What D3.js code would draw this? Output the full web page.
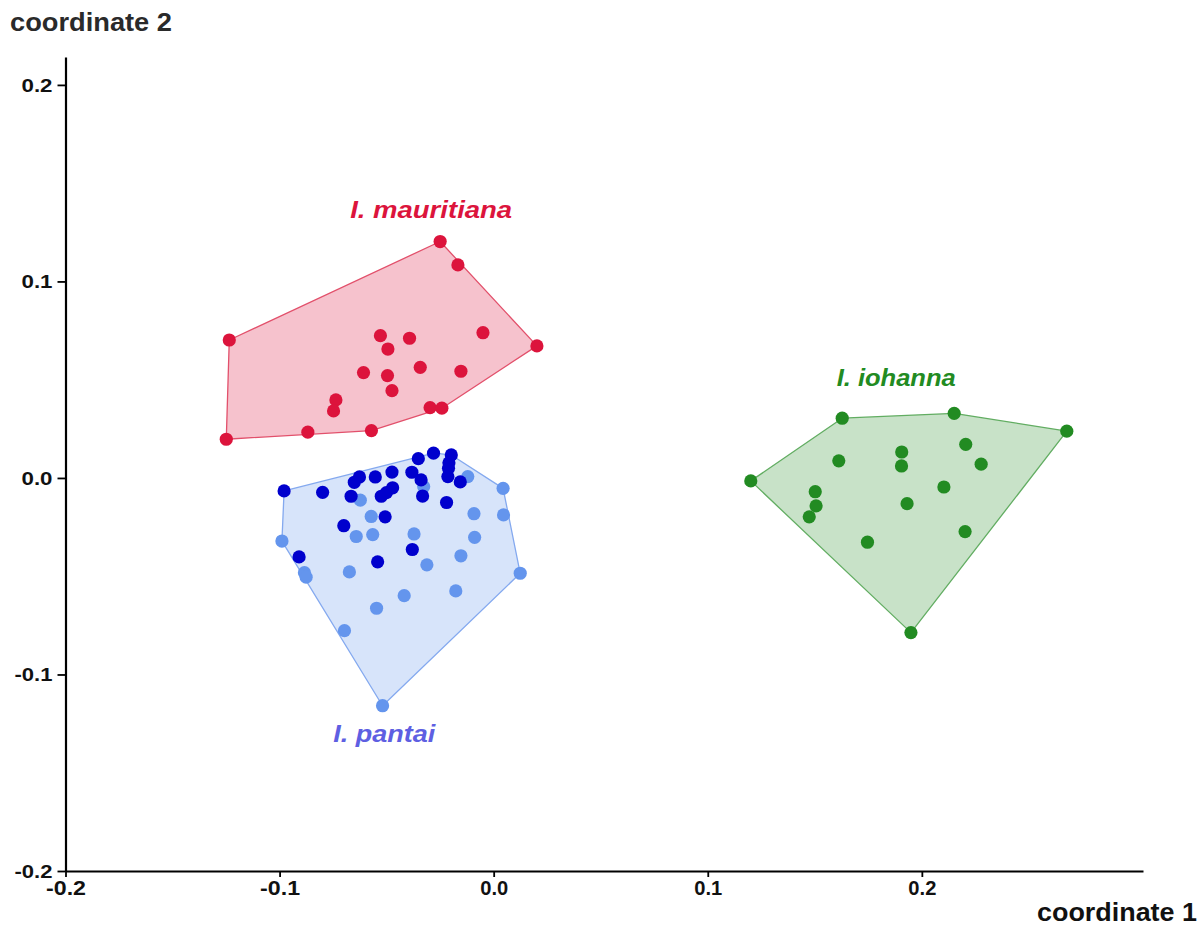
<!DOCTYPE html>
<html><head><meta charset="utf-8">
<script src="https://cdn.jsdelivr.net/npm/d3@7"></script>
<style>body{margin:0;background:#fff}svg{display:block}</style>
</head><body>
<svg id="chart" width="1203" height="926"></svg>
<script>
// ---- data (coordinate 1, coordinate 2) ----
const xTicks = [-0.2, -0.1, 0.0, 0.1, 0.2];
const yTicks = [-0.2, -0.1, 0.0, 0.1, 0.2];
const xTitle = "coordinate 1";
const yTitle = "coordinate 2";

const mauritiana = [
  [-0.0250, 0.1203], [-0.0167, 0.1084], [-0.1235, 0.0702], [-0.0050, 0.0739],
  [0.0202, 0.0672], [-0.0529, 0.0724], [-0.0393, 0.0711], [-0.0494, 0.0656],
  [-0.0608, 0.0536], [-0.0496, 0.0521], [-0.0343, 0.0563], [-0.0153, 0.0543],
  [-0.0475, 0.0444], [-0.0737, 0.0397], [-0.0748, 0.0341], [-0.0297, 0.0358],
  [-0.0242, 0.0355], [-0.0868, 0.0233], [-0.0571, 0.0241], [-0.1249, 0.0197]
];
const iohanna = [
  [0.1201, -0.0015], [0.1628, 0.0304], [0.2151, 0.0329], [0.2677, 0.0238],
  [0.2205, 0.0171], [0.2277, 0.0070], [0.1906, 0.0132], [0.1905, 0.0061],
  [0.1612, 0.0087], [0.2103, -0.0046], [0.1931, -0.0131], [0.1502, -0.0070],
  [0.1506, -0.0142], [0.1474, -0.0198], [0.2202, -0.0273], [0.1746, -0.0327],
  [0.1949, -0.0787]
];
const pantaiLight = [
  [-0.0121, 0.0007], [0.0044, -0.0053], [0.0046, -0.0188], [-0.0092, -0.0182],
  [-0.0089, -0.0302], [-0.0153, -0.0396], [0.0124, -0.0485], [-0.0177, -0.0575],
  [-0.0312, -0.0442], [-0.0372, -0.0285], [-0.0327, -0.0044], [-0.0418, -0.0599],
  [-0.0547, -0.0663], [-0.0697, -0.0777], [-0.0519, -0.1159], [-0.0674, -0.0478],
  [-0.0884, -0.0482], [-0.0876, -0.0505], [-0.0989, -0.0321], [-0.0642, -0.0298],
  [-0.0565, -0.0288], [-0.0572, -0.0196], [-0.0623, -0.0113]
];
const pantaiDark = [
  [-0.0979, -0.0066], [-0.0799, -0.0073], [-0.0666, -0.0093], [-0.0651, -0.0022],
  [-0.0627, 0.0005], [-0.0553, 0.0005], [-0.0475, 0.0030], [-0.0472, -0.0050],
  [-0.0501, -0.0075], [-0.0525, -0.0093], [-0.0382, 0.0029], [-0.0352, 0.0098],
  [-0.0281, 0.0126], [-0.0198, 0.0117], [-0.0209, 0.0077], [-0.0211, 0.0049],
  [-0.0214, 0.0007], [-0.0339, -0.0010], [-0.0332, -0.0092], [-0.0156, -0.0020],
  [-0.0220, -0.0125], [-0.0507, -0.0198], [-0.0700, -0.0243], [-0.0380, -0.0364],
  [-0.0542, -0.0427], [-0.0909, -0.0402]
];
const labelNames = ["I. mauritiana", "I. iohanna", "I. pantai"];
const labelAnchors = [[-0.0292, 0.1322], [0.1880, 0.0468], [-0.0511, -0.1342]];

// ---- styles ----
const svg = d3.select("#chart");
const x = d3.scaleLinear().domain([-0.2, 0.3033]).range([65.5, 1143]);
const y = d3.scaleLinear().domain([-0.2, 0.2142]).range([871, 57]);

const groups = [
  {pts: mauritiana, fill: "rgba(220,20,60,0.26)", stroke: "#e2506b", dots: [{pts: mauritiana, color: "#dc143c"}]},
  {pts: pantaiLight.concat(pantaiDark), fill: "rgba(100,149,237,0.26)", stroke: "#84a9ef",
   dots: [{pts: pantaiLight, color: "#6495ed"}, {pts: pantaiDark, color: "#0000cd"}]},
  {pts: iohanna, fill: "rgba(34,139,34,0.25)", stroke: "#62ad62", dots: [{pts: iohanna, color: "#228b22"}]}
];
const labelColors = ["#dc143c", "#228b22", "#5e5fe2"];
const labelLengths = [162, 119, 102];

// hulls
groups.forEach(g => {
  const sp = g.pts.map(d => [x(d[0]), y(d[1])]);
  const hull = d3.polygonHull(sp);
  svg.append("path")
    .attr("d", "M" + hull.join("L") + "Z")
    .attr("fill", g.fill)
    .attr("stroke", g.stroke)
    .attr("stroke-width", 1.3)
    .attr("stroke-linejoin", "round");
});
// dots
groups.forEach(g => {
  g.dots.forEach(s => {
    svg.append("g").selectAll("circle").data(s.pts).join("circle")
      .attr("cx", d => x(d[0])).attr("cy", d => y(d[1]))
      .attr("r", 6.6).attr("fill", s.color);
  });
});

// axes
const fmt = d => d.toFixed(1);
const xAxis = svg.append("g").attr("transform", `translate(0,${y(-0.2)})`)
  .call(d3.axisBottom(x).tickValues(xTicks).tickFormat(fmt).tickSize(6).tickPadding(4).tickSizeOuter(0));
const yAxis = svg.append("g").attr("transform", `translate(${x(-0.2)},0)`)
  .call(d3.axisLeft(y).tickValues(yTicks).tickFormat(fmt).tickSize(8).tickPadding(5).tickSizeOuter(0));
[xAxis, yAxis].forEach(a => {
  a.select(".domain").attr("stroke", "#000").attr("stroke-width", 2.2);
  a.selectAll(".tick line").attr("stroke", "#000").attr("stroke-width", 1.8);
});
xAxis.selectAll("text").attr("font-family", "'Liberation Sans',Arial,sans-serif")
  .attr("font-weight", "bold").attr("font-size", 20).attr("fill", "#111")
  .attr("textLength", d => d < 0 ? 40 : 28).attr("lengthAdjust", "spacingAndGlyphs");
yAxis.selectAll("text").attr("font-family", "'Liberation Sans',Arial,sans-serif")
  .attr("font-weight", "bold").attr("font-size", 19).attr("fill", "#111")
  .attr("textLength", d => d < 0 ? 38 : 31).attr("lengthAdjust", "spacingAndGlyphs");

// axis titles
svg.append("text").text(yTitle).attr("x", 10).attr("y", 31)
  .attr("font-family", "'Liberation Sans',Arial,sans-serif").attr("font-weight", "bold")
  .attr("font-size", 25).attr("fill", "#2a2a2a")
  .attr("textLength", 162).attr("lengthAdjust", "spacingAndGlyphs");
svg.append("text").text(xTitle).attr("x", 1197).attr("y", 921).attr("text-anchor", "end")
  .attr("font-family", "'Liberation Sans',Arial,sans-serif").attr("font-weight", "bold")
  .attr("font-size", 25).attr("fill", "#111")
  .attr("textLength", 160).attr("lengthAdjust", "spacingAndGlyphs");

// species labels
labelNames.forEach((name, i) => {
  svg.append("text").text(name)
    .attr("x", x(labelAnchors[i][0])).attr("y", y(labelAnchors[i][1]))
    .attr("text-anchor", "middle")
    .attr("font-family", "'Liberation Sans',Arial,sans-serif")
    .attr("font-weight", "bold").attr("font-style", "italic")
    .attr("font-size", 23).attr("fill", labelColors[i])
    .attr("textLength", labelLengths[i]).attr("lengthAdjust", "spacingAndGlyphs");
});
</script>
</body></html>
